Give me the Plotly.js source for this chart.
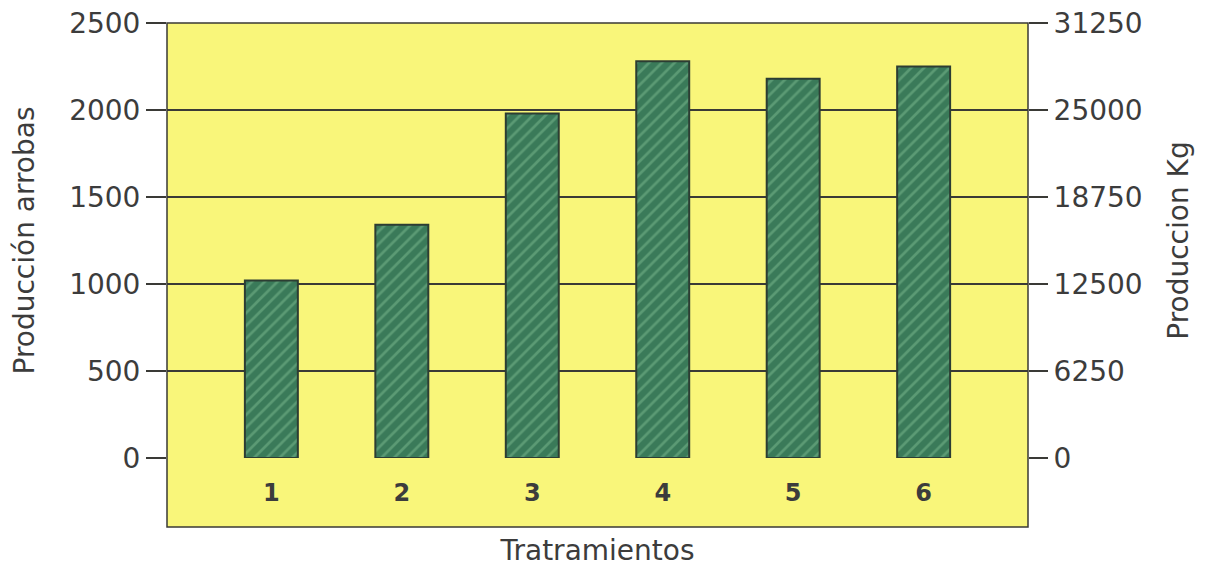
<!DOCTYPE html>
<html>
<head>
<meta charset="utf-8">
<script src="https://cdn.plot.ly/plotly-3.0.1.min.js"></script>
<style>html,body{margin:0;padding:0;background:#fff;}#chart{width:1210px;height:573px;}</style>
</head>
<body>
<div id="chart"></div>
<script>
const categories = ['1', '2', '3', '4', '5', '6'];
const produccionArrobas = [1020, 1340, 1980, 2280, 2180, 2250];
const kgPorArroba = 12.5;
const leftTickVals = [0, 500, 1000, 1500, 2000, 2500];
const rightTickVals = [0, 6250, 12500, 18750, 25000, 31250];
const rightTickText = ['0', '6250', '12500', '18750', '25000', '31250'];

const ink = '#3a3a36';
const textCol = '#3c3c3c';
const yellow = '#f9f67a';
const fontFam = 'DejaVu Sans, sans-serif';

const traces = [{
  type: 'bar',
  x: categories,
  y: produccionArrobas,
  yaxis: 'y',
  marker: {
    color: '#3b7d5b',
    line: {color: '#2c3d33', width: 2},
    pattern: {shape: '/', fgcolor: '#5b9a74', bgcolor: '#3a7a59', size: 9, solidity: 0.3}
  },
  hoverinfo: 'x+y'
}, {
  type: 'scatter',
  mode: 'markers',
  x: categories,
  y: produccionArrobas.map(v => v * kgPorArroba),
  yaxis: 'y2',
  marker: {opacity: 0, size: 1},
  hoverinfo: 'skip'
}];

const plotH = 458 - 23;
const layout = {
  width: 1210,
  height: 573,
  margin: {l: 167, r: 182, t: 23, b: 115},
  paper_bgcolor: '#ffffff',
  plot_bgcolor: 'rgba(0,0,0,0)',
  showlegend: false,
  bargap: 0.594,
  xaxis: {
    type: 'category',
    range: [-0.8, 5.8],
    showgrid: false,
    zeroline: false,
    showline: false,
    ticks: 'outside',
    ticklen: 13,
    tickcolor: 'rgba(0,0,0,0)',
    tickfont: {family: fontFam, size: 24, color: textCol, weight: 'bold'},
    automargin: 'bottom',
    title: {text: 'Tratramientos', font: {family: fontFam, size: 28, color: textCol}, standoff: 34}
  },
  yaxis: {
    range: [0, 2500],
    tickvals: leftTickVals,
    ticks: 'outside',
    ticklen: 20,
    tickwidth: 1.5,
    tickcolor: ink,
    showgrid: true,
    gridcolor: ink,
    gridwidth: 1.5,
    zeroline: false,
    showline: false,
    tickfont: {family: fontFam, size: 28, color: textCol},
    automargin: 'left',
    title: {text: 'Producción arrobas', font: {family: fontFam, size: 28, color: textCol}, standoff: 26}
  },
  yaxis2: {
    overlaying: 'y',
    side: 'right',
    range: [0, 31250],
    tickvals: rightTickVals,
    ticktext: rightTickText,
    ticks: 'outside',
    ticklen: 19,
    tickwidth: 1.5,
    tickcolor: ink,
    showgrid: false,
    zeroline: false,
    showline: false,
    tickfont: {family: fontFam, size: 28, color: textCol},
    automargin: 'right',
    title: {text: 'Produccion Kg', font: {family: fontFam, size: 28, color: textCol}, standoff: 26}
  },
  shapes: [{
    type: 'rect',
    xref: 'paper', yref: 'paper',
    x0: 0, x1: 1, y0: -(527 - 458) / plotH, y1: 1,
    fillcolor: yellow,
    line: {color: ink, width: 1.5},
    layer: 'below'
  }]
};

Plotly.newPlot('chart', traces, layout, {displayModeBar: false, staticPlot: true});
</script>
</body>
</html>
